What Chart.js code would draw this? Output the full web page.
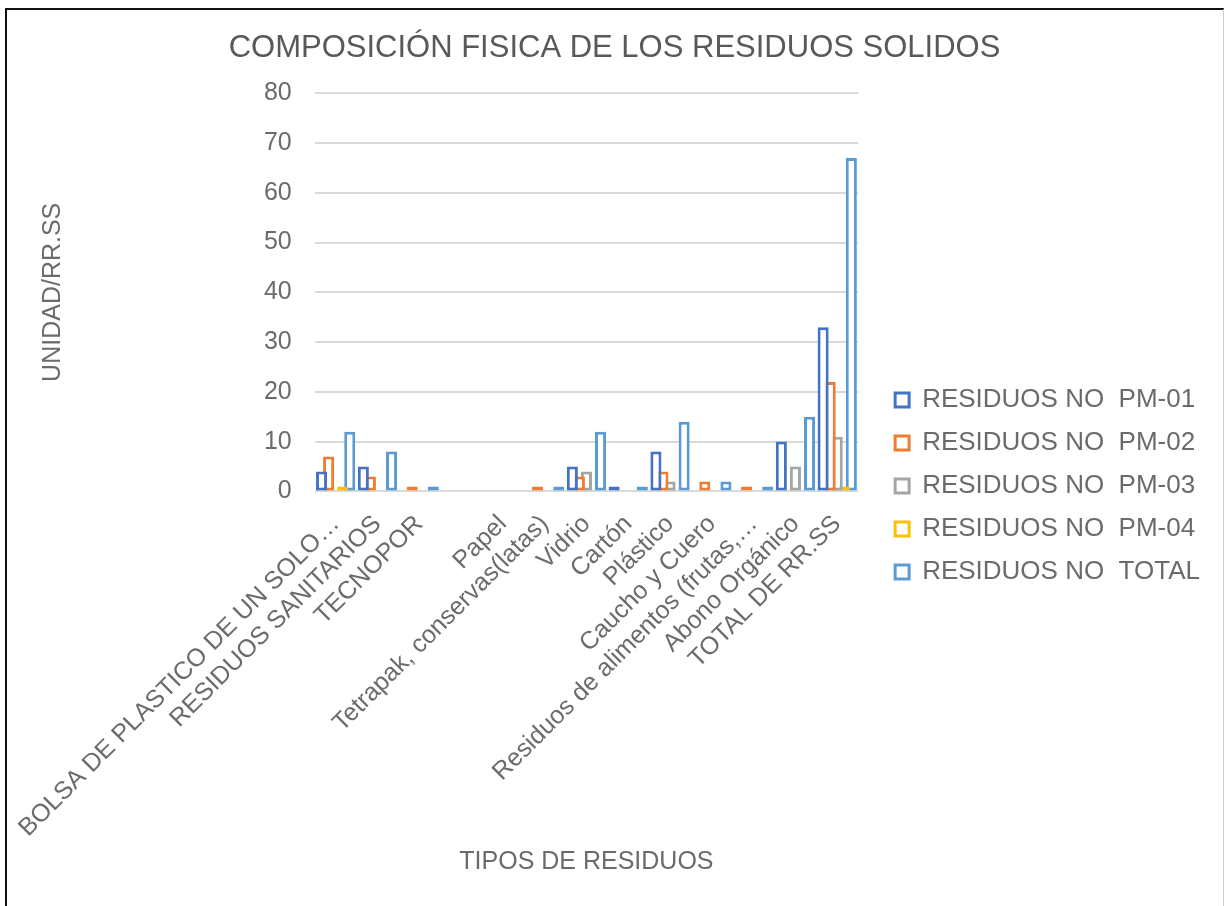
<!DOCTYPE html>
<html>
<head>
<meta charset="utf-8">
<script src="https://cdn.jsdelivr.net/npm/chart.js@4.4.1/dist/chart.umd.min.js"></script>
<style>
  html, body { margin: 0; padding: 0; background: #fff; }
  #wrap { position: relative; width: 1225px; height: 906px; overflow: hidden; }
  #chart { position: absolute; left: 0; top: 0; }
  #frame { position: absolute; left: 5px; top: 8px; width: 1216px; height: 900px;
           border-left: 2px solid #111; border-top: 2px solid #111; border-right: 1px solid #d0d0d0;
           pointer-events: none; }
</style>
</head>
<body>
<div id="wrap">
  <canvas id="chart" width="1225" height="906"></canvas>
  <div id="frame"></div>
</div>
<script>
// data
const categories = [
    "BOLSA DE PLASTICO DE UN SOLO…", "RESIDUOS SANITARIOS", "TECNOPOR", "", "Papel",
    "Tetrapak, conservas(latas)", "Vidrio", "Cartón", "Plástico", "Caucho y Cuero",
    "Residuos de alimentos (frutas,…", "Abono Orgánico", "TOTAL DE RR.SS"
];
const seriesNames = ["RESIDUOS NO  PM-01", "RESIDUOS NO  PM-02", "RESIDUOS NO  PM-03", "RESIDUOS NO  PM-04", "RESIDUOS NO  TOTAL"];
const pm01  = [4, 5, 0, 0, 0, 0, 5, 1, 8, 0, 0, 10, 33];
const pm02  = [7, 3, 1, 0, 0, 1, 3, 0, 4, 2, 1, 0, 22];
const pm03  = [0, 0, 0, 0, 0, 0, 4, 0, 2, 0, 0, 5, 11];
const pm04  = [1, 0, 0, 0, 0, 0, 0, 0, 0, 0, 0, 0, 1];
const total = [12, 8, 1, 0, 0, 1, 12, 1, 14, 2, 1, 15, 67];
const yTicks = [0, 10, 20, 30, 40, 50, 60, 70, 80];

const colors = ["#4472C4", "#ED7D31", "#A5A5A5", "#FFC000", "#5B9BD5"];
const values = [pm01, pm02, pm03, pm04, total];
const font = "'Liberation Sans', Arial, sans-serif";
const grey = "#6b6b6b";

let datasets = values.map((v, i) => ({
    label: seriesNames[i],
    data: v,
    backgroundColor: "#ffffff",
    borderColor: colors[i],
    borderWidth: 3,
    borderSkipped: false
}));

// ajusta leyenda y titulo como en Excel
const excelLayout = {
    id: "excelLayout",
    afterLayout(chart) {
        chart.legend.left += 20;
        chart.legend.right += 20;
        chart.legend.top += 33;
        chart.legend.bottom += 33;
        chart.titleBlock.left += 16;
    }
};

let ctx = document.getElementById("chart").getContext("2d");
new Chart(ctx, {
    type: "bar",
    data: { labels: categories, datasets: datasets },
    plugins: [excelLayout],
    options: {
        responsive: false,
        animation: false,
        layout: { padding: { left: 23, right: 35, top: 10, bottom: 10 } },
        datasets: { bar: { categoryPercentage: 0.843, barPercentage: 1.57 } },
        plugins: {
            title: {
                display: true,
                text: "COMPOSICIÓN FISICA DE LOS RESIDUOS SOLIDOS",
                color: "#595959",
                font: { family: font, size: 31, weight: "normal" },
                padding: { top: 20, bottom: 26 }
            },
            legend: {
                position: "right",
                align: "center",
                maxWidth: 400,
                labels: {
                    color: grey,
                    font: { family: font, size: 26 },
                    boxWidth: 14,
                    boxHeight: 14,
                    padding: 17
                }
            },
            tooltip: { enabled: false }
        },
        scales: {
            x: {
                grid: { display: false, drawTicks: false },
                border: { display: false },
                ticks: {
                    color: grey,
                    font: { family: font, size: 25 },
                    minRotation: 45,
                    maxRotation: 45,
                    autoSkip: false,
                    padding: 18
                },
                title: {
                    display: true,
                    text: "TIPOS DE RESIDUOS",
                    color: grey,
                    font: { family: font, size: 25 },
                    padding: { top: -14, bottom: 19 }
                },
                afterFit(axis) { axis.paddingLeft = 0; axis.paddingRight = 0; }
            },
            y: {
                min: 0,
                max: 80,
                afterBuildTicks(axis) { axis.ticks = yTicks.map(v => ({ value: v })); },
                grid: { color: "#d9d9d9", lineWidth: 2, drawTicks: false },
                border: { display: false },
                ticks: { color: grey, font: { family: font, size: 25 }, padding: 23 },
                title: {
                    display: true,
                    text: "UNIDAD/RR.SS",
                    color: grey,
                    font: { family: font, size: 25 },
                    padding: { top: 15, bottom: 200 }
                }
            }
        }
    }
});
</script>
</body>
</html>
